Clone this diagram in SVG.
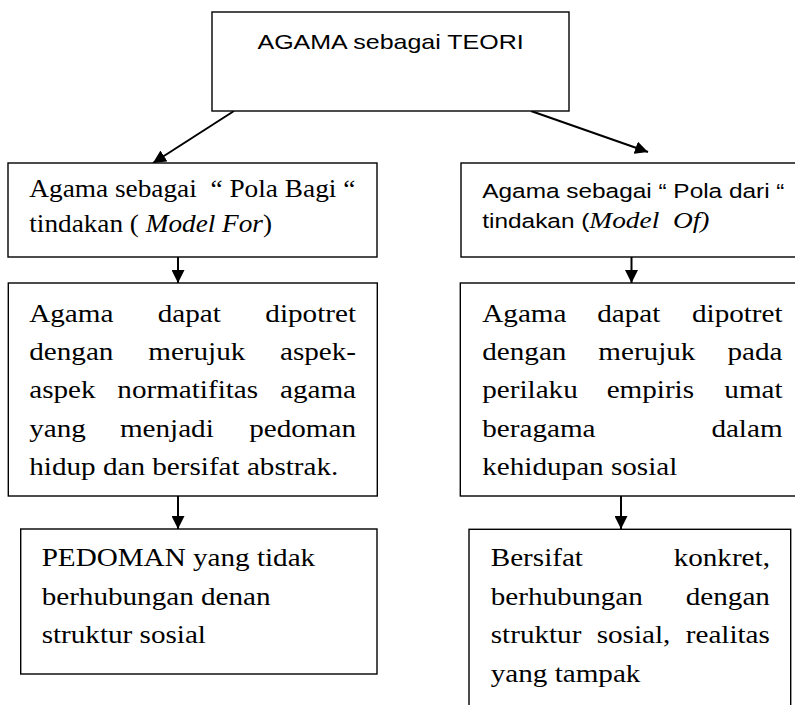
<svg xmlns="http://www.w3.org/2000/svg" width="795" height="705" viewBox="0 0 795 705">
<style>
.box{fill:#fff;stroke:#000;stroke-width:1.4}
.conn{stroke:#000;stroke-width:2;fill:none}
.tr{font-family:"Liberation Serif","Times New Roman",serif;font-size:24.5px;fill:#000}
.sn{font-family:"Liberation Sans",Arial,sans-serif;font-size:20.5px;fill:#000}
.it{font-family:"Liberation Serif","Times New Roman",serif;font-style:italic}
</style>
<defs>
<marker id="ah" markerUnits="userSpaceOnUse" markerWidth="13" markerHeight="13" viewBox="0 0 13 13" refX="13" refY="6.5" orient="auto">
<path d="M0,0 L13,6.5 L0,13 Z" fill="#000"/>
</marker>
</defs>
<rect width="795" height="705" fill="#fff"/>

<g id="connectors">
<path class="conn" d="M234,111 L153,163" marker-end="url(#ah)"/>
<path class="conn" d="M531,111 L648,152" marker-end="url(#ah)"/>
<path class="conn" d="M178,257 L178,283" marker-end="url(#ah)"/>
<path class="conn" d="M178,496 L178,529" marker-end="url(#ah)"/>
<path class="conn" d="M631.5,257 L631.5,283" marker-end="url(#ah)"/>
<path class="conn" d="M621,496 L621,529" marker-end="url(#ah)"/>
</g>

<g id="teori">
<rect class="box" x="212" y="12" width="357" height="99"/>
<text class="sn" style="font-size:21px" transform="scale(1.19,1)" x="328.2" y="49" text-anchor="middle">AGAMA sebagai TEORI</text>
</g>

<g id="pola-bagi">
<rect class="box" x="8" y="163" width="369" height="94"/>
<text class="tr" transform="scale(1.19,1)" x="24.6" y="196.7" textLength="274" lengthAdjust="spacingAndGlyphs" xml:space="preserve">Agama sebagai  “ Pola Bagi “</text>
<text class="tr" transform="scale(1.19,1)" x="24.6" y="231.7" textLength="204" lengthAdjust="spacingAndGlyphs" xml:space="preserve">tindakan ( <tspan font-style="italic">Model For</tspan>)</text>
</g>

<g id="pola-dari">
<rect class="box" x="461" y="163" width="336" height="94"/>
<text class="sn" transform="scale(1.19,1)" x="405.3" y="198" xml:space="preserve">Agama sebagai “ Pola dari “</text>
<text class="sn" transform="scale(1.19,1)" x="405.3" y="228" xml:space="preserve">tindakan (<tspan class="it" style="font-size:23px">Model  Of)</tspan></text>
</g>

<g id="normatif">
<rect class="box" x="8.3" y="283" width="369" height="213"/>
<text class="tr" transform="scale(1.19,1)" y="321.7"><tspan x="24.6">Agama</tspan><tspan x="132.5">dapat</tspan><tspan x="223.0">dipotret</tspan></text>
<text class="tr" transform="scale(1.19,1)" y="360"><tspan x="24.6">dengan</tspan><tspan x="124.6">merujuk</tspan><tspan x="235.3">aspek-</tspan></text>
<text class="tr" transform="scale(1.19,1)" y="398.3"><tspan x="24.6">aspek</tspan><tspan x="98.6">normatifitas</tspan><tspan x="235.3">agama</tspan></text>
<text class="tr" transform="scale(1.19,1)" y="436.7"><tspan x="24.6">yang</tspan><tspan x="100.8">menjadi</tspan><tspan x="209.4">pedoman</tspan></text>
<text class="tr" transform="scale(1.19,1)" x="24.6" y="475">hidup dan bersifat abstrak.</text>
</g>

<g id="empiris">
<rect class="box" x="460.3" y="283" width="337" height="213"/>
<text class="tr" transform="scale(1.19,1)" y="321.7"><tspan x="405.3">Agama</tspan><tspan x="501.9">dapat</tspan><tspan x="581.5">dipotret</tspan></text>
<text class="tr" transform="scale(1.19,1)" y="360"><tspan x="405.3">dengan</tspan><tspan x="502.8">merujuk</tspan><tspan x="611.4">pada</tspan></text>
<text class="tr" transform="scale(1.19,1)" y="398.3"><tspan x="405.3">perilaku</tspan><tspan x="509.8">empiris</tspan><tspan x="608.7">umat</tspan></text>
<text class="tr" transform="scale(1.19,1)" y="436.7"><tspan x="405.3">beragama</tspan><tspan x="597.8">dalam</tspan></text>
<text class="tr" transform="scale(1.19,1)" x="405.3" y="475">kehidupan sosial</text>
</g>

<g id="pedoman">
<rect class="box" x="20.7" y="529" width="356.3" height="145"/>
<text class="tr" transform="scale(1.19,1)" x="35" y="566">PEDOMAN yang tidak</text>
<text class="tr" transform="scale(1.19,1)" x="35" y="605">berhubungan denan</text>
<text class="tr" transform="scale(1.19,1)" x="35" y="643.3">struktur sosial</text>
</g>

<g id="konkret">
<rect class="box" x="469" y="529.3" width="321.7" height="195"/>
<text class="tr" transform="scale(1.19,1)" y="566"><tspan x="412.4">Bersifat</tspan><tspan x="566.1">konkret,</tspan></text>
<text class="tr" transform="scale(1.19,1)" y="605"><tspan x="412.4">berhubungan</tspan><tspan x="576.3">dengan</tspan></text>
<text class="tr" transform="scale(1.19,1)" y="643.3"><tspan x="412.4">struktur</tspan><tspan x="501.4">sosial,</tspan><tspan x="576.3">realitas</tspan></text>
<text class="tr" transform="scale(1.19,1)" x="412.4" y="681.7">yang tampak</text>
</g>
</svg>
